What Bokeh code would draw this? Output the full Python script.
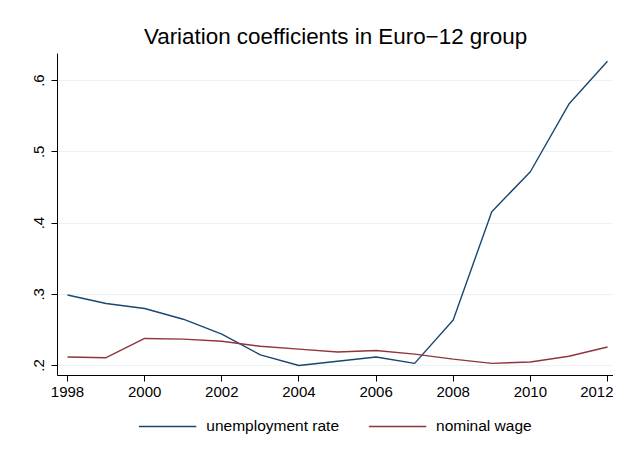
from bokeh.plotting import figure
from bokeh.layouts import column
from bokeh.models import Legend, LegendItem, FixedTicker, Range1d
from bokeh.embed import file_html
from bokeh.resources import INLINE

years = [1998, 1999, 2000, 2001, 2002, 2003, 2004, 2005, 2006, 2007, 2008, 2009, 2010, 2011, 2012]
unemployment = [0.299, 0.287, 0.280, 0.265, 0.244, 0.215, 0.200, 0.206, 0.212, 0.203, 0.264, 0.416, 0.472, 0.567, 0.627]
nominal_wage = [0.212, 0.211, 0.238, 0.237, 0.234, 0.227, 0.223, 0.219, 0.221, 0.216, 0.209, 0.203, 0.205, 0.213, 0.226]
x_ticks = [1998, 2000, 2002, 2004, 2006, 2008, 2010, 2012]
y_ticks = [0.2, 0.3, 0.4, 0.5, 0.6]
y_tick_labels = [".2", ".3", ".4", ".5", ".6"]
title_text = "Variation coefficients in Euro\u221212 group"
series_names = ["unemployment rate", "nominal wage"]

FONT = "Liberation Sans"
NAVY = "#1a476f"
MAROON = "#90353b"

p = figure(width=613, height=405, output_backend="svg", toolbar_location=None,
           x_range=Range1d(1997.74, 2012.156), y_range=Range1d(0.186, 0.638),
           min_border_left=57, min_border_right=0, min_border_top=53, min_border_bottom=30)
p.outline_line_color = None
p.background_fill_color = "white"
p.border_fill_color = "white"

p.title.text = title_text
p.title.align = "center"
p.title.text_font = FONT
p.title.text_font_size = "22.4px"
p.title.text_font_style = "normal"
p.title.text_color = "black"

p.line(years, unemployment, line_color=NAVY, line_width=1.4)
p.line(years, nominal_wage, line_color=MAROON, line_width=1.4)

p.xaxis.ticker = FixedTicker(ticks=x_ticks)
p.yaxis.ticker = FixedTicker(ticks=y_ticks)
p.yaxis.major_label_overrides = {t: l for t, l in zip(y_ticks, y_tick_labels)}
p.yaxis.major_label_orientation = "vertical"
for ax in (p.xaxis, p.yaxis):
    ax.axis_line_color = "black"
    ax.major_tick_line_color = "black"
    ax.minor_tick_line_color = None
    ax.major_tick_out = 6
    ax.major_tick_in = 0
    ax.major_label_text_font = FONT
    ax.major_label_text_font_size = "15px"
    ax.major_label_text_color = "black"
p.xaxis.major_label_standoff = 5
p.yaxis.major_label_standoff = 7

p.xgrid.grid_line_color = None
p.ygrid.grid_line_color = "#eaf2f3"
p.ygrid.grid_line_width = 1.2

# legend strip below the chart (same series, kept outside its visible range)
pl = figure(width=613, height=42, output_backend="svg", toolbar_location=None,
            x_range=Range1d(1997.74, 2012.156), y_range=Range1d(10, 11),
            x_axis_location=None, y_axis_location=None,
            min_border_left=57, min_border_right=0, min_border_top=0, min_border_bottom=0)
pl.outline_line_color = None
pl.grid.grid_line_color = None
pl.background_fill_color = "white"
pl.border_fill_color = "white"
k1 = pl.line(years, unemployment, line_color=NAVY, line_width=1.4)
k2 = pl.line(years, nominal_wage, line_color=MAROON, line_width=1.4)

legend = Legend(items=[LegendItem(label=series_names[0], renderers=[k1]),
                       LegendItem(label=series_names[1], renderers=[k2])],
                orientation="horizontal", location="center")
legend.border_line_color = None
legend.background_fill_alpha = 0
legend.label_text_font = FONT
legend.label_text_font_size = "15.5px"
legend.label_text_color = "black"
legend.glyph_width = 58
legend.glyph_height = 20
legend.label_standoff = 10
legend.spacing = 29
legend.padding = 6
legend.margin = 0
pl.add_layout(legend, "center")

layout = column(p, pl, spacing=0)
open("out.html", "w").write(file_html(layout, INLINE))
